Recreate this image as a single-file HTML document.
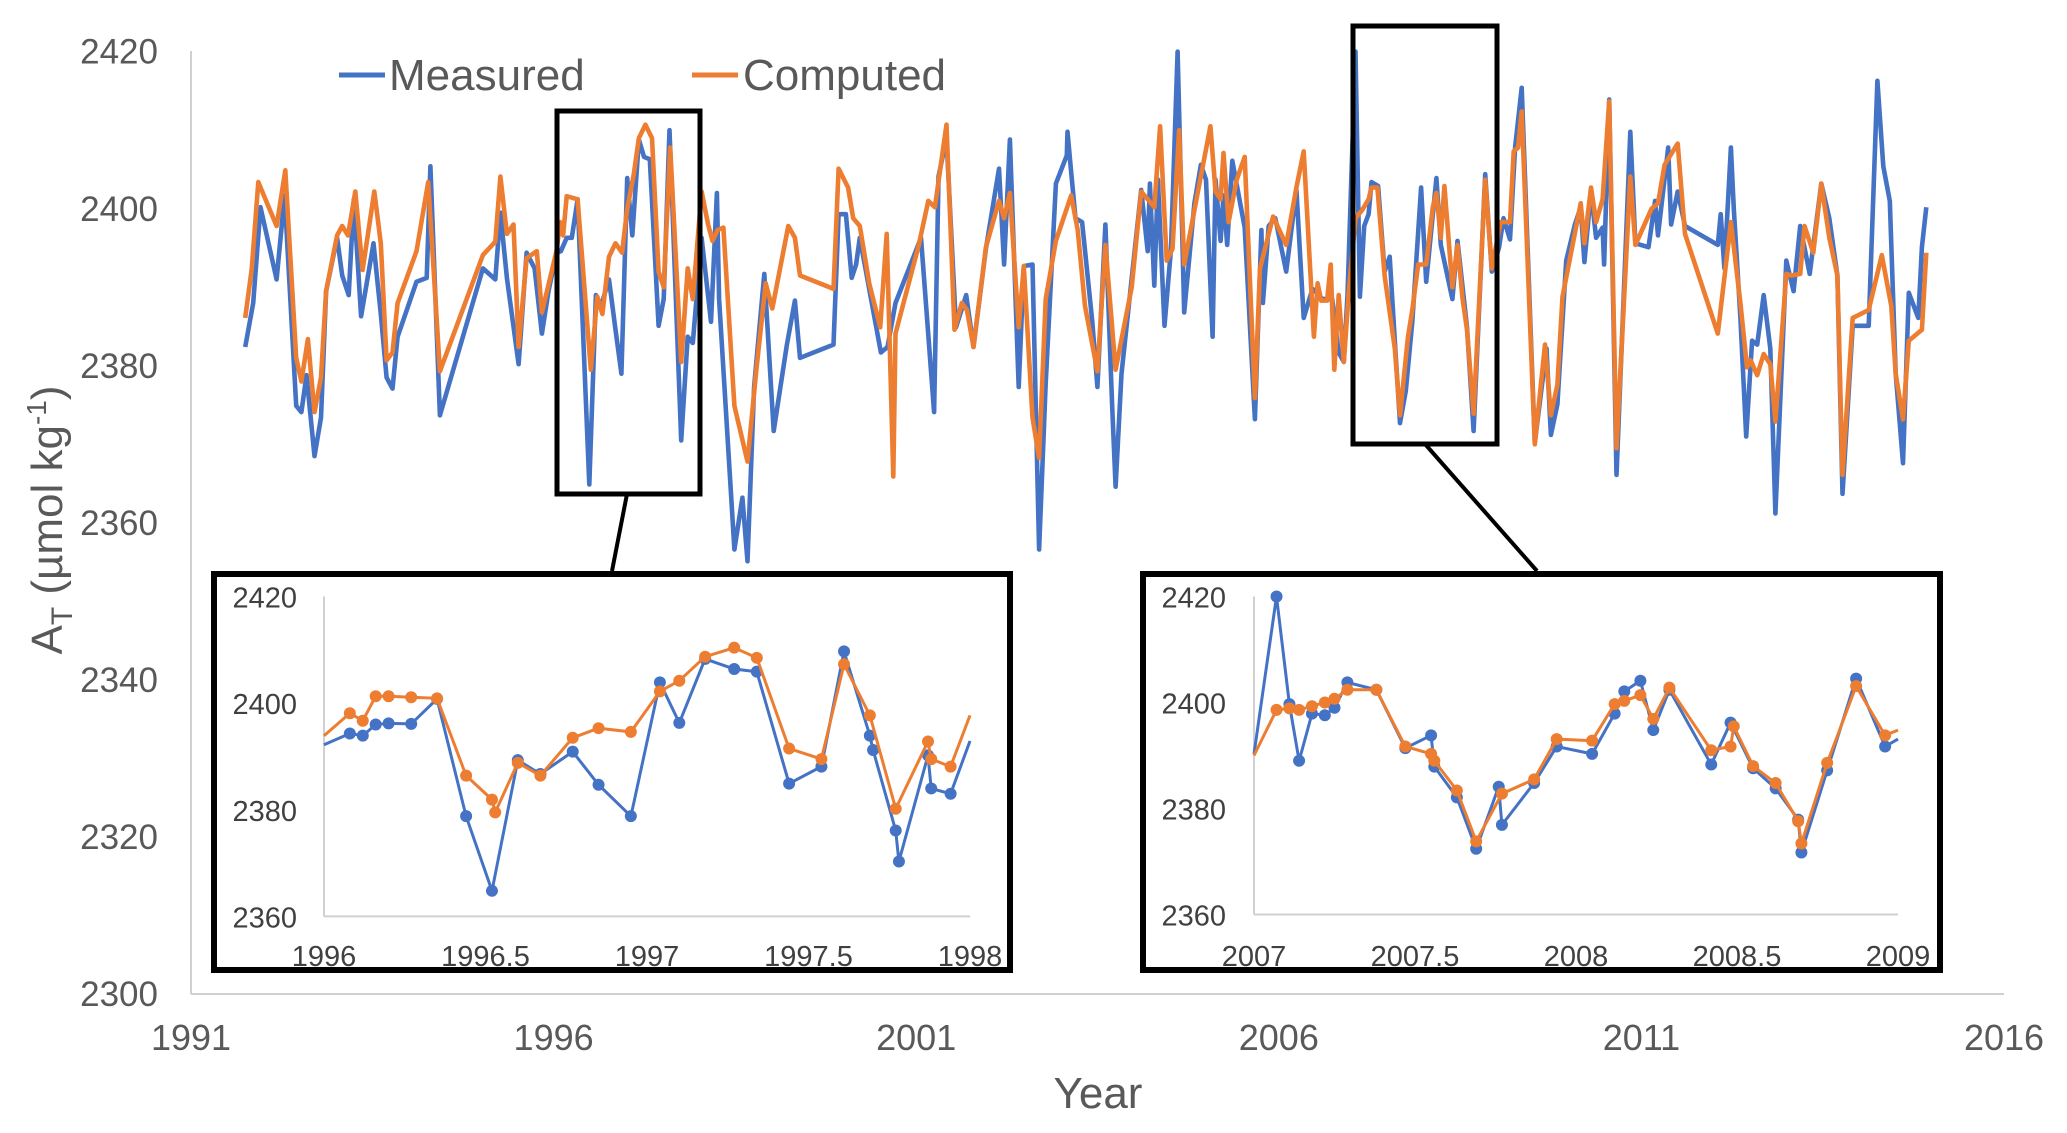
<!DOCTYPE html>
<html><head><meta charset="utf-8"><style>
html,body{margin:0;padding:0;background:#fff;}
svg{display:block;font-family:"Liberation Sans",Arial,sans-serif;}
</style></head><body>
<svg id="chart" width="2067" height="1133" viewBox="0 0 2067 1133" xmlns="http://www.w3.org/2000/svg">
<g id="main"></g>
<g id="legend">
  <line x1="339" y1="75" x2="385" y2="75" stroke="#4472C4" stroke-width="5"/>
  <text x="389" y="90" font-size="44" fill="#595959">Measured</text>
  <line x1="692" y1="75" x2="738" y2="75" stroke="#ED7D31" stroke-width="5"/>
  <text x="743" y="90" font-size="44" fill="#595959">Computed</text>
</g>
<text x="1098" y="1108" font-size="44" fill="#595959" text-anchor="middle">Year</text>
<text transform="translate(62,520) rotate(-90)" font-size="44" fill="#595959" text-anchor="middle">A<tspan font-size="30" dy="10">T</tspan><tspan dy="-10"> (µmol kg</tspan><tspan font-size="28" dy="-16">-1</tspan><tspan dy="16">)</tspan></text>
<rect x="557" y="111" width="143" height="383" fill="none" stroke="#000" stroke-width="5"/>
<rect x="1353" y="26" width="144" height="418" fill="none" stroke="#000" stroke-width="5"/>
<line x1="627" y1="494" x2="612" y2="571" stroke="#000" stroke-width="4"/>
<line x1="1425" y1="444" x2="1537" y2="571" stroke="#000" stroke-width="4"/>
<g id="inset1"></g>
<g id="inset2"></g>
</svg>
<script>
const measuredYears=[1991.73,1991.84,1991.94,1992.16,1992.27,1992.43,1992.50,1992.57,1992.68,1992.77,1992.84,1992.99,1993.06,1993.15,1993.22,1993.32,1993.49,1993.59,1993.67,1993.75,1993.82,1994.08,1994.22,1994.27,1994.40,1994.99,1995.16,1995.23,1995.32,1995.48,1995.59,1995.70,1995.80,1995.89,1996.00,1996.06,1996.14,1996.21,1996.29,1996.45,1996.54,1996.61,1996.72,1996.81,1996.89,1996.97,1997.04,1997.13,1997.20,1997.28,1997.40,1997.47,1997.55,1997.71,1997.80,1997.87,1997.99,1998.12,1998.20,1998.23,1998.44,1998.55,1998.62,1998.71,1998.85,1998.98,1999.16,1999.27,1999.34,1999.80,1999.87,1999.97,2000.05,2000.11,2000.16,2000.45,2000.54,2000.65,2001.00,2001.18,2001.24,2001.35,2001.48,2001.62,2001.72,2001.89,2002.07,2002.14,2002.22,2002.34,2002.41,2002.53,2002.62,2002.71,2002.85,2003.00,2003.01,2003.06,2003.12,2003.21,2003.35,2003.42,2003.53,2003.62,2003.67,2003.75,2004.02,2004.11,2004.14,2004.20,2004.25,2004.34,2004.43,2004.52,2004.61,2004.75,2004.84,2004.91,2005.00,2005.04,2005.11,2005.15,2005.20,2005.27,2005.44,2005.58,2005.67,2005.69,2005.77,2005.86,2006.01,2006.15,2006.25,2006.37,2006.51,2006.64,2006.73,2006.80,2006.85,2006.96,2007.02,2007.08,2007.14,2007.18,2007.27,2007.36,2007.43,2007.50,2007.57,2007.65,2007.74,2007.86,2007.93,2008.07,2008.13,2008.29,2008.36,2008.49,2008.58,2008.74,2008.83,2008.93,2008.99,2009.08,2009.15,2009.24,2009.42,2009.58,2009.64,2009.73,2009.85,2009.97,2010.05,2010.10,2010.19,2010.26,2010.35,2010.37,2010.44,2010.54,2010.73,2010.80,2010.98,2011.07,2011.11,2011.25,2011.29,2011.38,2011.48,2011.93,2011.97,2012.02,2012.11,2012.15,2012.24,2012.32,2012.40,2012.47,2012.56,2012.65,2012.72,2012.87,2012.97,2013.06,2013.19,2013.35,2013.46,2013.57,2013.64,2013.78,2014.00,2014.12,2014.20,2014.29,2014.37,2014.47,2014.55,2014.68,2014.73,2014.79];
const measuredValues=[2382.4,2388.0,2400.2,2391.0,2401.7,2374.9,2374.1,2378.8,2368.5,2373.4,2389.5,2396.3,2391.5,2389.0,2401.2,2386.3,2395.6,2386.6,2378.5,2377.1,2383.7,2390.7,2391.2,2405.4,2373.7,2392.4,2391.0,2399.5,2391.2,2380.2,2394.4,2392.4,2384.1,2389.5,2394.4,2394.6,2396.3,2396.3,2401.2,2364.9,2389.0,2387.6,2391.0,2384.6,2379.0,2403.9,2396.6,2408.8,2406.6,2406.3,2385.1,2388.5,2410.0,2370.5,2383.7,2382.9,2396.3,2385.6,2402.0,2388.5,2356.6,2363.2,2355.1,2377.3,2391.7,2371.7,2382.7,2388.3,2381.0,2382.7,2399.3,2399.3,2391.2,2392.9,2396.3,2381.7,2382.4,2388.0,2396.3,2374.1,2404.1,2409.0,2384.9,2389.0,2382.4,2394.9,2405.1,2392.9,2408.8,2377.3,2392.7,2392.9,2356.6,2377.8,2403.2,2406.8,2409.8,2404.6,2398.8,2398.3,2385.6,2377.3,2398.0,2375.4,2364.6,2379.0,2402.4,2394.6,2403.2,2390.2,2403.7,2385.1,2394.9,2420.0,2386.8,2400.7,2405.6,2403.7,2383.7,2403.7,2395.9,2401.7,2395.4,2406.1,2397.6,2373.2,2397.3,2388.0,2397.8,2398.8,2392.0,2402.4,2386.1,2389.8,2388.5,2388.5,2381.7,2380.5,2389.0,2420.0,2388.8,2397.8,2399.3,2403.4,2402.9,2392.0,2393.9,2383.2,2372.7,2376.8,2385.6,2402.7,2390.7,2403.9,2395.4,2388.5,2395.9,2384.9,2371.7,2404.4,2392.0,2395.1,2398.8,2396.1,2407.8,2415.4,2370.2,2382.2,2371.2,2375.1,2393.4,2398.0,2400.2,2393.2,2402.2,2396.3,2397.6,2392.9,2413.9,2366.1,2409.8,2395.6,2395.1,2401.0,2396.6,2407.8,2398.0,2402.2,2397.8,2395.4,2399.3,2392.4,2407.8,2400.0,2386.1,2371.0,2383.2,2382.7,2389.0,2382.2,2361.2,2393.4,2389.5,2397.8,2391.7,2403.2,2398.8,2391.5,2363.7,2385.1,2385.1,2416.3,2405.4,2401.0,2379.0,2367.6,2389.3,2386.1,2395.1,2400.2];
const computedYears=[1991.73,1991.82,1991.91,1992.16,1992.28,1992.43,1992.50,1992.59,1992.68,1992.77,1992.84,1992.99,1993.06,1993.14,1993.24,1993.34,1993.50,1993.59,1993.67,1993.75,1993.82,1994.08,1994.24,1994.40,1994.99,1995.16,1995.23,1995.32,1995.41,1995.48,1995.59,1995.73,1995.80,1996.00,1996.05,1996.09,1996.14,1996.29,1996.47,1996.56,1996.63,1996.72,1996.81,1996.90,1996.97,1997.06,1997.13,1997.22,1997.31,1997.40,1997.47,1997.56,1997.71,1997.80,1997.87,1997.99,1998.08,1998.14,1998.21,1998.29,1998.44,1998.62,1998.74,1998.87,1998.96,1999.18,1999.27,1999.34,1999.80,1999.87,2000.00,2000.07,2000.16,2000.29,2000.44,2000.53,2000.62,2000.65,2000.97,2001.10,2001.19,2001.35,2001.46,2001.56,2001.63,2001.72,2001.89,2002.07,2002.14,2002.22,2002.34,2002.41,2002.53,2002.62,2002.71,2002.85,2003.06,2003.15,2003.25,2003.42,2003.53,2003.67,2003.89,2004.02,2004.20,2004.28,2004.37,2004.45,2004.54,2004.61,2004.81,2004.97,2005.04,2005.11,2005.15,2005.22,2005.33,2005.44,2005.58,2005.65,2005.83,2006.01,2006.15,2006.25,2006.39,2006.44,2006.49,2006.57,2006.62,2006.67,2006.73,2006.80,2006.87,2006.96,2007.05,2007.14,2007.18,2007.26,2007.36,2007.50,2007.57,2007.68,2007.74,2007.82,2007.93,2008.02,2008.07,2008.13,2008.18,2008.29,2008.36,2008.43,2008.49,2008.58,2008.74,2008.83,2008.95,2009.08,2009.13,2009.19,2009.24,2009.42,2009.56,2009.64,2009.73,2009.80,2010.05,2010.10,2010.19,2010.26,2010.35,2010.44,2010.54,2010.73,2010.80,2011.02,2011.11,2011.20,2011.38,2011.48,2011.93,2012.11,2012.24,2012.33,2012.38,2012.47,2012.56,2012.65,2012.72,2012.87,2012.94,2013.06,2013.12,2013.24,2013.35,2013.46,2013.57,2013.64,2013.78,2014.00,2014.18,2014.31,2014.37,2014.47,2014.55,2014.73,2014.79];
const computedValues=[2386.1,2392.4,2403.4,2397.8,2404.9,2381.0,2378.0,2383.4,2374.1,2378.5,2389.5,2396.6,2397.8,2396.6,2402.2,2392.2,2402.2,2395.6,2380.7,2381.7,2388.0,2394.6,2403.4,2379.3,2394.1,2395.8,2404.1,2396.8,2398.0,2382.4,2393.7,2394.6,2386.8,2394.6,2398.3,2396.6,2401.6,2401.2,2379.5,2388.8,2386.6,2393.9,2395.6,2394.4,2400.0,2404.4,2409.0,2410.7,2409.0,2392.0,2390.0,2407.8,2380.5,2392.4,2388.5,2402.2,2398.0,2395.9,2397.3,2397.6,2374.9,2367.8,2379.3,2390.5,2387.3,2397.8,2396.3,2391.5,2389.8,2405.1,2402.7,2398.8,2397.8,2390.5,2384.9,2396.8,2365.9,2384.1,2395.4,2401.0,2400.2,2410.7,2384.6,2388.0,2387.1,2382.4,2395.1,2401.0,2398.8,2402.0,2384.9,2392.7,2373.4,2368.3,2388.5,2395.9,2401.7,2397.3,2387.6,2379.3,2395.4,2379.5,2390.0,2402.2,2400.2,2410.5,2393.4,2394.9,2410.0,2392.9,2402.7,2410.5,2402.2,2401.2,2407.1,2398.3,2403.7,2406.6,2375.9,2392.4,2399.0,2395.4,2402.7,2407.3,2383.7,2390.5,2388.3,2388.3,2392.9,2379.5,2389.0,2380.5,2389.5,2398.8,2399.8,2401.2,2402.7,2402.7,2391.5,2382.2,2373.7,2383.7,2387.1,2392.9,2392.9,2400.2,2402.0,2396.3,2402.9,2390.0,2395.4,2388.5,2384.6,2373.9,2403.7,2392.4,2398.3,2398.3,2407.3,2407.8,2412.4,2370.0,2382.7,2373.7,2377.6,2388.8,2400.7,2395.6,2402.7,2398.3,2401.2,2413.7,2369.5,2404.1,2395.4,2400.0,2400.7,2405.6,2408.3,2396.8,2384.1,2398.3,2388.0,2379.8,2380.7,2378.8,2381.5,2380.2,2372.9,2391.7,2391.5,2391.7,2397.8,2394.4,2403.2,2396.3,2391.5,2366.1,2386.1,2387.1,2394.1,2387.6,2379.0,2373.2,2383.2,2384.6,2394.4];
const mainYTicks=[2300,2320,2340,2360,2380,2400,2420];
const mainXTicks=[1991,1996,2001,2006,2011,2016];

const inset1MeasuredYears=[1996.00,1996.08,1996.12,1996.16,1996.20,1996.27,1996.35,1996.44,1996.52,1996.60,1996.67,1996.77,1996.85,1996.95,1997.04,1997.10,1997.18,1997.27,1997.34,1997.44,1997.54,1997.61,1997.69,1997.70,1997.77,1997.78,1997.87,1997.88,1997.94,1998.00];
const inset1MeasuredValues=[2392.2,2394.3,2393.9,2396.0,2396.2,2396.1,2400.8,2378.8,2364.8,2389.3,2386.7,2390.9,2384.7,2378.8,2403.9,2396.3,2408.3,2406.4,2405.9,2384.9,2388.1,2409.7,2393.9,2391.2,2376.1,2370.3,2390.2,2384.0,2383.0,2392.9];
const inset1ComputedYears=[1996.00,1996.08,1996.12,1996.16,1996.20,1996.27,1996.35,1996.44,1996.52,1996.53,1996.60,1996.67,1996.77,1996.85,1996.95,1997.04,1997.10,1997.18,1997.27,1997.34,1997.44,1997.54,1997.61,1997.69,1997.77,1997.87,1997.88,1997.94,1998.00];
const inset1ComputedValues=[2393.9,2398.1,2396.7,2401.3,2401.3,2401.1,2400.9,2386.4,2381.9,2379.5,2388.8,2386.4,2393.5,2395.3,2394.6,2402.2,2404.2,2408.7,2410.4,2408.5,2391.5,2389.5,2407.3,2397.7,2380.2,2392.8,2389.5,2388.1,2397.7];
const inset1XTicks=[1996,1996.5,1997,1997.5,1998];
const inset2MeasuredYears=[2007.00,2007.07,2007.11,2007.14,2007.18,2007.22,2007.25,2007.29,2007.38,2007.47,2007.55,2007.56,2007.63,2007.69,2007.76,2007.77,2007.87,2007.94,2008.05,2008.12,2008.15,2008.20,2008.24,2008.29,2008.42,2008.48,2008.55,2008.62,2008.69,2008.70,2008.78,2008.87,2008.96,2009.00];
const inset2MeasuredValues=[2390.3,2420.0,2399.7,2389.0,2397.9,2397.6,2399.0,2403.8,2402.4,2391.4,2393.8,2387.9,2382.1,2372.4,2384.1,2376.9,2384.8,2391.7,2390.3,2397.9,2402.1,2404.1,2394.8,2402.4,2388.3,2396.2,2387.6,2383.8,2377.9,2371.7,2387.2,2404.5,2391.7,2393.1];
const inset2ComputedYears=[2007.00,2007.07,2007.11,2007.14,2007.18,2007.22,2007.25,2007.29,2007.38,2007.47,2007.55,2007.56,2007.63,2007.69,2007.77,2007.87,2007.94,2008.05,2008.12,2008.15,2008.20,2008.24,2008.29,2008.42,2008.48,2008.49,2008.55,2008.62,2008.69,2008.70,2008.78,2008.87,2008.96,2009.00];
const inset2ComputedValues=[2390.0,2398.6,2398.9,2398.6,2399.3,2400.0,2400.7,2402.4,2402.4,2391.7,2390.3,2389.0,2383.4,2373.8,2382.8,2385.5,2393.1,2392.8,2399.7,2400.3,2401.4,2396.9,2402.8,2391.0,2391.7,2395.5,2388.0,2384.8,2377.6,2373.4,2388.6,2403.1,2393.8,2394.8];
const inset2XTicks=[2007,2007.5,2008,2008.5,2009];
const insetYTicks=[2360,2380,2400,2420];

const NS='http://www.w3.org/2000/svg';
function mk(parent,tag,attrs){const e=document.createElementNS(NS,tag);for(const k in attrs)e.setAttribute(k,attrs[k]);parent.appendChild(e);return e;}
function linear(d0,d1,r0,r1){return v=>r0+(v-d0)*(r1-r0)/(d1-d0);}
function pathFrom(xs,ys,sx,sy){return xs.map((x,i)=>(i?'L':'M')+sx(x).toFixed(1)+','+sy(ys[i]).toFixed(1)).join('');}

const main=document.getElementById('main');
const mx=linear(1991,2016,191,2004), my=linear(2300,2420,994,51.7);
const mxData=linear(1991,2016,192,2014.5);
let ax=mk(main,'line',{x1:191,y1:51,x2:191,y2:994,stroke:'#d0d0d0','stroke-width':2});


ax=mk(main,'line',{x1:191,y1:994,x2:2004,y2:994,stroke:'#d0d0d0','stroke-width':2});


mainYTicks.forEach(v=>{const t=mk(main,'text',{x:158,y:my(v)+12,'font-size':35,fill:'#595959','text-anchor':'end'});t.textContent=v;

});
mainXTicks.forEach(v=>{const t=mk(main,'text',{x:mx(v),y:1050,'font-size':36,fill:'#595959','text-anchor':'middle'});t.textContent=v;

});
let p=mk(main,'path',{d:pathFrom(measuredYears,measuredValues,mxData,my),fill:'none',stroke:'#4472C4','stroke-width':4.6,'stroke-linejoin':'round'});


p=mk(main,'path',{d:pathFrom(computedYears,computedValues,mxData,my),fill:'none',stroke:'#ED7D31','stroke-width':4.6,'stroke-linejoin':'round'});



function inset(g,box,plot,xt,xs1,ys1,xs2,ys2,labelRight){
  const r=mk(g,'rect',{x:box[0],y:box[1],width:box[2]-box[0],height:box[3]-box[1],fill:'#fff',stroke:'#000','stroke-width':6});
  
  
  const sx=linear(xt[0],xt[xt.length-1],plot[0],plot[2]), sy=linear(2360,2420,plot[3],plot[1]);
  let a=mk(g,'line',{x1:plot[0],y1:plot[1],x2:plot[0],y2:plot[3],stroke:'#d0d0d0','stroke-width':2});
  
  
  a=mk(g,'line',{x1:plot[0],y1:plot[3],x2:plot[2],y2:plot[3],stroke:'#d0d0d0','stroke-width':2});
  
  
  insetYTicks.forEach(v=>{const t=mk(g,'text',{x:labelRight,y:sy(v)+11,'font-size':29,fill:'#404040','text-anchor':'end'});t.textContent=v;
  
  });
  xt.forEach(v=>{const t=mk(g,'text',{x:sx(v),y:966,'font-size':29,fill:'#404040','text-anchor':'middle'});t.textContent=v;
  
  });
  [[xs1,ys1,'#4472C4','inset-measured'],[xs2,ys2,'#ED7D31','inset-computed']].forEach(s=>{
    const l=mk(g,'path',{d:pathFrom(s[0],s[1],sx,sy),fill:'none',stroke:s[2],'stroke-width':3});
    
    
    s[0].forEach((x,i)=>{if(i===0||i===s[0].length-1)return;
      const c=mk(g,'circle',{cx:sx(x),cy:sy(s[1][i]),r:6,fill:s[2]});
      
      });
  });
}
inset(document.getElementById('inset1'),[214,574,1010,970],[324,596.5,970,916.4],inset1XTicks,inset1MeasuredYears,inset1MeasuredValues,inset1ComputedYears,inset1ComputedValues,297);
inset(document.getElementById('inset2'),[1143,574,1940,970],[1254,596.5,1898,914.5],inset2XTicks,inset2MeasuredYears,inset2MeasuredValues,inset2ComputedYears,inset2ComputedValues,1226);
</script>
</body></html>
